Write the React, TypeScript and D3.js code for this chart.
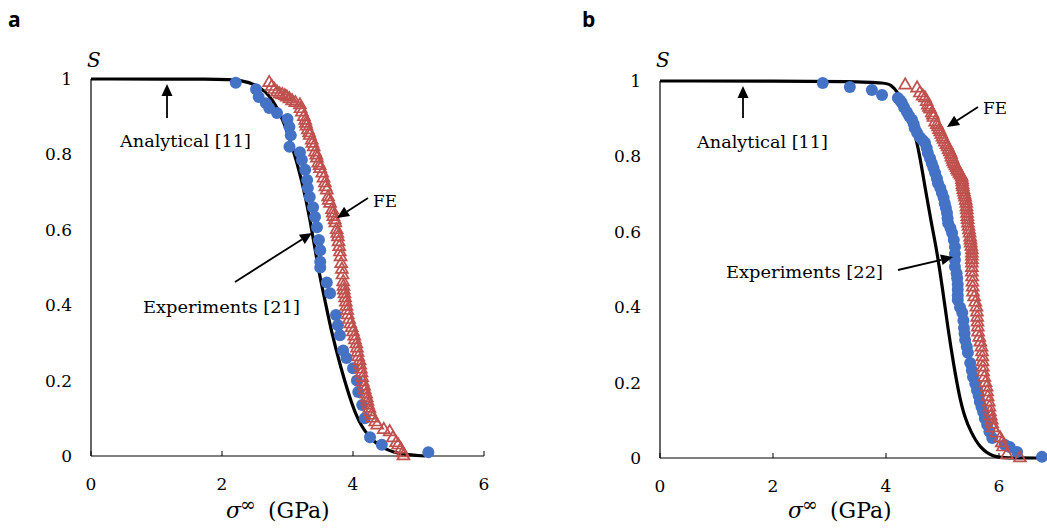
import React from 'react';
import * as d3 from 'd3';

type P = [number, number];

const xTicks = [0, 2, 4, 6];
const yTicks = [0, 0.2, 0.4, 0.6, 0.8, 1];
const yTickLabels = ['0', '0.2', '0.4', '0.6', '0.8', '1'];

// Panel a
const analyticalA: P[] = [
  [0, 1], [2.0, 1], [2.3, 0.997], [2.58, 0.982], [2.84, 0.936], [3.08, 0.82], [3.22, 0.73],
  [3.34, 0.634], [3.47, 0.495], [3.57, 0.415], [3.67, 0.33], [3.8, 0.243], [3.95, 0.154],
  [4.08, 0.092], [4.26, 0.045], [4.52, 0.014], [4.76, 0.004], [5.1, 0],
];
const experimentsA: P[] = [
  [2.21, 0.99], [2.52, 0.973], [2.56, 0.952], [2.67, 0.936], [2.72, 0.923], [2.84, 0.91],
  [3.0, 0.894], [3.03, 0.873], [3.05, 0.851], [3.03, 0.82], [3.19, 0.806], [3.22, 0.785],
  [3.27, 0.759], [3.3, 0.732], [3.31, 0.711], [3.34, 0.687], [3.39, 0.66], [3.42, 0.634],
  [3.45, 0.607], [3.48, 0.573], [3.5, 0.546], [3.5, 0.515], [3.5, 0.5], [3.6, 0.46],
  [3.65, 0.432], [3.74, 0.374], [3.77, 0.347], [3.8, 0.32], [3.85, 0.28], [3.9, 0.26],
  [4.0, 0.233], [4.06, 0.2], [4.08, 0.17], [4.14, 0.135], [4.18, 0.1], [4.26, 0.05],
  [4.44, 0.03], [5.15, 0.01],
];
const feA: P[] = [
  [2.72, 0.99], [2.76, 0.98], [2.8, 0.972], [2.84, 0.965], [2.88, 0.96], [2.92, 0.958],
  [2.96, 0.955], [2.99, 0.952], [3.03, 0.947], [3.07, 0.942], [3.12, 0.937], [3.19, 0.931],
  [3.2, 0.921], [3.22, 0.912], [3.25, 0.9], [3.27, 0.89], [3.28, 0.882], [3.29, 0.875],
  [3.31, 0.865], [3.33, 0.857], [3.34, 0.85], [3.37, 0.838], [3.38, 0.829], [3.4, 0.82],
  [3.42, 0.806], [3.44, 0.798], [3.45, 0.79], [3.47, 0.777], [3.49, 0.77], [3.5, 0.762],
  [3.53, 0.75], [3.55, 0.737], [3.57, 0.724], [3.58, 0.714], [3.6, 0.705], [3.62, 0.687],
  [3.63, 0.678], [3.65, 0.67], [3.68, 0.653], [3.69, 0.644], [3.7, 0.635], [3.72, 0.626],
  [3.73, 0.618], [3.75, 0.6], [3.76, 0.59], [3.77, 0.581], [3.78, 0.568], [3.79, 0.555],
  [3.8, 0.541], [3.81, 0.528], [3.82, 0.51], [3.83, 0.495], [3.84, 0.48], [3.85, 0.462],
  [3.855, 0.45], [3.86, 0.44], [3.87, 0.43], [3.88, 0.419], [3.89, 0.408], [3.9, 0.397],
  [3.91, 0.386], [3.92, 0.374], [3.94, 0.362], [3.96, 0.35], [3.98, 0.34], [4.0, 0.329],
  [4.02, 0.318], [4.03, 0.308], [4.05, 0.297], [4.06, 0.286], [4.07, 0.275], [4.08, 0.263],
  [4.1, 0.252], [4.11, 0.241], [4.12, 0.23], [4.13, 0.22], [4.14, 0.208], [4.15, 0.196],
  [4.17, 0.185], [4.18, 0.175], [4.2, 0.164], [4.21, 0.154], [4.22, 0.145], [4.23, 0.135],
  [4.25, 0.126], [4.26, 0.117], [4.28, 0.108], [4.3, 0.1], [4.34, 0.09], [4.37, 0.082],
  [4.47, 0.07], [4.56, 0.064], [4.61, 0.048], [4.66, 0.035], [4.69, 0.029], [4.73, 0.018],
  [4.76, 0.008], [4.77, 0.0],
];

// Panel b
const analyticalB: P[] = [
  [0, 1], [3.9, 1], [4.1, 0.99], [4.2, 0.972], [4.35, 0.93], [4.5, 0.87], [4.6, 0.8],
  [4.7, 0.71], [4.8, 0.625], [4.9, 0.55], [5.0, 0.45], [5.1, 0.34], [5.2, 0.245],
  [5.3, 0.162], [5.4, 0.105], [5.5, 0.07], [5.66, 0.027], [5.89, 0.003], [6.1, 0], [6.75, 0],
];
const experimentsB: P[] = [
  [2.88, 0.995], [3.36, 0.984], [3.75, 0.976], [3.93, 0.963], [4.21, 0.955], [4.25, 0.948],
  [4.28, 0.942], [4.32, 0.93], [4.37, 0.918], [4.41, 0.907], [4.46, 0.897], [4.49, 0.886],
  [4.51, 0.875], [4.55, 0.863], [4.6, 0.851], [4.65, 0.843], [4.69, 0.836], [4.72, 0.822],
  [4.74, 0.809], [4.78, 0.795], [4.81, 0.782], [4.84, 0.769], [4.87, 0.756], [4.9, 0.742],
  [4.92, 0.729], [4.96, 0.716], [4.99, 0.703], [5.02, 0.69], [5.04, 0.676], [5.06, 0.663],
  [5.08, 0.65], [5.09, 0.636], [5.1, 0.623], [5.14, 0.61], [5.17, 0.597], [5.2, 0.578],
  [5.22, 0.56], [5.22, 0.542], [5.22, 0.525], [5.22, 0.507], [5.25, 0.49], [5.26, 0.477],
  [5.27, 0.46], [5.27, 0.446], [5.27, 0.432], [5.27, 0.419], [5.31, 0.4], [5.35, 0.385],
  [5.37, 0.365], [5.38, 0.345], [5.39, 0.33], [5.4, 0.313], [5.43, 0.295], [5.45, 0.279],
  [5.49, 0.252], [5.52, 0.233], [5.54, 0.215], [5.58, 0.197], [5.61, 0.18], [5.64, 0.165],
  [5.66, 0.149], [5.69, 0.135], [5.72, 0.122], [5.75, 0.105], [5.79, 0.088], [5.83, 0.07],
  [5.88, 0.053], [6.1, 0.035], [6.19, 0.029], [6.32, 0.016], [6.76, 0.003],
];
const feB: P[] = [
  [4.34, 0.989], [4.55, 0.981], [4.6, 0.968], [4.65, 0.96], [4.69, 0.955], [4.72, 0.945],
  [4.74, 0.936], [4.76, 0.93], [4.78, 0.925], [4.81, 0.915], [4.83, 0.909], [4.84, 0.903],
  [4.87, 0.891], [4.9, 0.884], [4.92, 0.878], [4.94, 0.871], [4.96, 0.865], [4.98, 0.858],
  [5.0, 0.851], [5.02, 0.845], [5.04, 0.838], [5.07, 0.831], [5.09, 0.825], [5.11, 0.818],
  [5.13, 0.812], [5.15, 0.805], [5.16, 0.798], [5.18, 0.792], [5.19, 0.785], [5.21, 0.78],
  [5.23, 0.775], [5.25, 0.77], [5.26, 0.764], [5.28, 0.76], [5.3, 0.755], [5.32, 0.75],
  [5.34, 0.745], [5.345, 0.738], [5.35, 0.732], [5.355, 0.725], [5.36, 0.719], [5.37, 0.712],
  [5.38, 0.705], [5.39, 0.698], [5.4, 0.692], [5.41, 0.683], [5.42, 0.675], [5.425, 0.666],
  [5.43, 0.658], [5.435, 0.649], [5.44, 0.64], [5.445, 0.632], [5.45, 0.623], [5.46, 0.614],
  [5.47, 0.605], [5.48, 0.596], [5.49, 0.586], [5.495, 0.578], [5.5, 0.57], [5.51, 0.561],
  [5.52, 0.552], [5.52, 0.543], [5.52, 0.535], [5.52, 0.526], [5.52, 0.517], [5.52, 0.505],
  [5.52, 0.493], [5.525, 0.48], [5.53, 0.466], [5.535, 0.453], [5.54, 0.44], [5.56, 0.427],
  [5.58, 0.413], [5.6, 0.4], [5.61, 0.387], [5.615, 0.373], [5.62, 0.36], [5.625, 0.347],
  [5.63, 0.334], [5.65, 0.32], [5.67, 0.307], [5.69, 0.294], [5.7, 0.281], [5.705, 0.268],
  [5.71, 0.255], [5.715, 0.241], [5.72, 0.228], [5.74, 0.214], [5.76, 0.2], [5.78, 0.188],
  [5.79, 0.175], [5.8, 0.162], [5.82, 0.148], [5.83, 0.135], [5.84, 0.122], [5.855, 0.111],
  [5.87, 0.1], [5.88, 0.09], [5.89, 0.08], [5.95, 0.066], [6.02, 0.053], [6.05, 0.04],
  [6.07, 0.029], [6.14, 0.008], [6.37, 0.0],
];

const SERIF = "'DejaVu Serif', serif";
const BLUE = '#4472C4';
const RED = '#C0504D';

type Ann = { text: string; tx: number; ty: number; tw: number; from: P; to: P };

function Arrow({ from, to }: { from: P; to: P }) {
  const [x1, y1] = from;
  const [x2, y2] = to;
  const ang = Math.atan2(y2 - y1, x2 - x1);
  const L = 12, W = 5.5;
  const bx = x2 - L * Math.cos(ang), by = y2 - L * Math.sin(ang);
  const px = -Math.sin(ang) * W, py = Math.cos(ang) * W;
  return (
    <g>
      <line x1={x1} y1={y1} x2={bx} y2={by} stroke="#000" strokeWidth={1.8} />
      <polygon points={`${x2},${y2} ${bx + px},${by + py} ${bx - px},${by - py}`} fill="#000" />
    </g>
  );
}

function Panel({ label, lx, x0, xMax, xEnd, yTop, yBot, sx, analytical, exps, fe, anns }: {
  label: string; lx: number; x0: number; xMax: number; xEnd: number; yTop: number; yBot: number; sx: number;
  analytical: P[]; exps: P[]; fe: P[]; anns: Ann[];
}) {
  const x = d3.scaleLinear().domain([0, xMax]).range([x0, xEnd]);
  const y = d3.scaleLinear().domain([0, 1]).range([yBot, yTop]);
  const line = d3.line<P>().x(d => x(d[0])).y(d => y(d[1])).curve(d3.curveBasis);
  const tri = d3.symbol().type(d3.symbolTriangle).size(62)();
  const axisRight = Math.min(xEnd, 1047);
  return (
    <g>
      <text x={lx} y={27} fontFamily="'Open Sans', sans-serif" fontWeight="bold" fontSize={21}>{label}</text>
      <text x={x0 - 4} y={67} fontFamily={SERIF} fontStyle="italic" fontSize={20}>S</text>
      {yTicks.map((t, i) => (
        <text key={t} x={x0 - 19} y={y(t) + 6} textAnchor="end" fontFamily={SERIF} fontSize={17}>{yTickLabels[i]}</text>
      ))}
      {xTicks.map(t => (
        <g key={t}>
          <line x1={x(t)} x2={x(t)} y1={yBot} y2={yBot - 5} stroke="#000" strokeWidth={1} />
          <text x={x(t)} y={yBot + 34} textAnchor="middle" fontFamily={SERIF} fontSize={17}>{t}</text>
        </g>
      ))}
      <line x1={x0} x2={x0} y1={yTop} y2={yBot} stroke="#000" strokeWidth={1.2} />
      <line x1={x0} x2={axisRight} y1={yBot} y2={yBot} stroke="#000" strokeWidth={1.2} />
      <path d={line(analytical) || ''} fill="none" stroke="#000" strokeWidth={3.2} />
      {exps.map((d, i) => (
        <circle key={i} cx={x(d[0])} cy={y(d[1])} r={6} fill={BLUE} />
      ))}
      {fe.map((d, i) => (
        <path key={i} d={tri || ''} transform={`translate(${x(d[0])},${y(d[1])})`} fill="none" stroke={RED} strokeWidth={1.7} />
      ))}
      {anns.map((a, i) => (
        <g key={i}>
          <text x={a.tx} y={a.ty} fontFamily={SERIF} fontSize={17} textLength={a.tw} lengthAdjust="spacingAndGlyphs">{a.text}</text>
          <Arrow from={a.from} to={a.to} />
        </g>
      ))}
      <text x={sx} y={518} fontFamily={SERIF} fontSize={22} fontStyle="italic">σ</text>
      <text x={sx + 14} y={511} fontFamily={SERIF} fontSize={19}>∞</text>
      <text x={sx + 42} y={518} fontFamily={SERIF} fontSize={22}>(GPa)</text>
    </g>
  );
}

export default function App() {
  return (
    <svg width={1047} height={529} style={{ position: 'absolute', left: 0, top: 0, background: '#fff' }}>
      <rect width={1047} height={529} fill="#fff" />
      <Panel label="a" lx={8} x0={91} xMax={6} xEnd={484} yTop={79} yBot={456} sx={226}
        analytical={analyticalA} exps={experimentsA} fe={feA}
        anns={[
          { text: 'Analytical [11]', tx: 120, ty: 147, tw: 131, from: [167, 118], to: [167, 84] },
          { text: 'FE', tx: 373, ty: 207, tw: 24, from: [368, 198], to: [337, 218] },
          { text: 'Experiments [21]', tx: 143, ty: 313, tw: 157, from: [235, 282], to: [312, 233] },
        ]} />
      <Panel label="b" lx={582} x0={660} xMax={7} xEnd={660 + 7 * 56.5} yTop={81} yBot={458} sx={788}
        analytical={analyticalB} exps={experimentsB} fe={feB}
        anns={[
          { text: 'Analytical [11]', tx: 697, ty: 148, tw: 131, from: [743, 118], to: [743, 86] },
          { text: 'FE', tx: 983, ty: 114, tw: 24, from: [978, 107], to: [947, 127] },
          { text: 'Experiments [22]', tx: 726, ty: 278, tw: 157, from: [898, 270], to: [953, 257] },
        ]} />
    </svg>
  );
}
